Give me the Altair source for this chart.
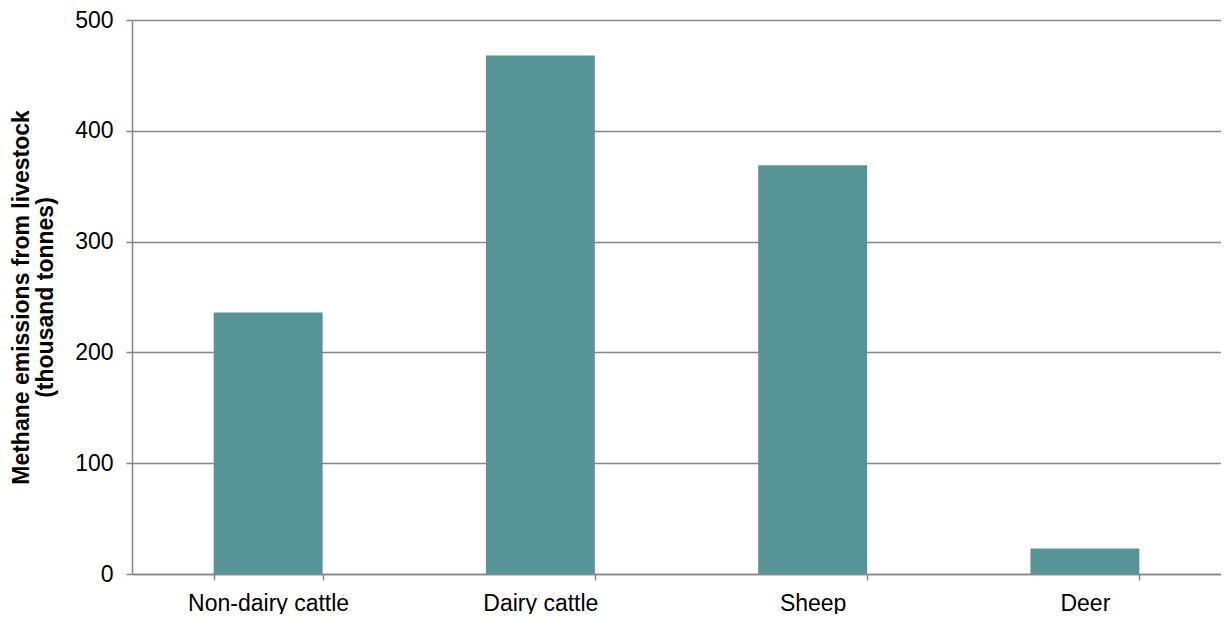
import altair as alt
import pandas as pd

categories = ["Non-dairy cattle", "Dairy cattle", "Sheep", "Deer"]
values = [236, 468, 369, 23]

df = pd.DataFrame({"category": categories, "value": values})

FONT = "Liberation Sans"
GRAY = "#878787"

chart = alt.Chart(df).mark_bar(color="#579497").encode(
    x=alt.X(
        "category:N",
        sort=categories,
        title=None,
        scale=alt.Scale(paddingInner=0.6, paddingOuter=0.3),
        axis=alt.Axis(
            labelAngle=0,
            labelFont=FONT,
            labelFontSize=23,
            labelColor="#000000",
            labelPadding=12,
            tickBand="extent",
            tickSize=6,
            tickColor=GRAY,
            tickWidth=1.5,
            domainColor=GRAY,
            domainWidth=1.5,
            grid=False,
        ),
    ),
    y=alt.Y(
        "value:Q",
        scale=alt.Scale(domain=[0, 500]),
        title=["Methane emissions from livestock", "(thousand tonnes)"],
        axis=alt.Axis(
            values=[0, 100, 200, 300, 400, 500],
            labelFont=FONT,
            labelFontSize=23,
            labelColor="#000000",
            labelPadding=13,
            tickSize=6,
            tickColor=GRAY,
            tickWidth=1.5,
            domainColor=GRAY,
            domainWidth=1.5,
            gridColor=GRAY,
            gridWidth=1.5,
            titleFont=FONT,
            titleFontSize=23,
            titleFontWeight="bold",
            titleColor="#000000",
            titleX=-99,
            titleLineHeight=24,
        ),
    ),
).properties(
    width=1089,
    height=554,
    autosize=alt.AutoSizeParams(type="none"),
    padding={"left": 124, "top": 12, "right": 0, "bottom": 40},
).configure_view(stroke=None)

chart.save("out.html", embed_options={"renderer": "svg", "actions": False})
